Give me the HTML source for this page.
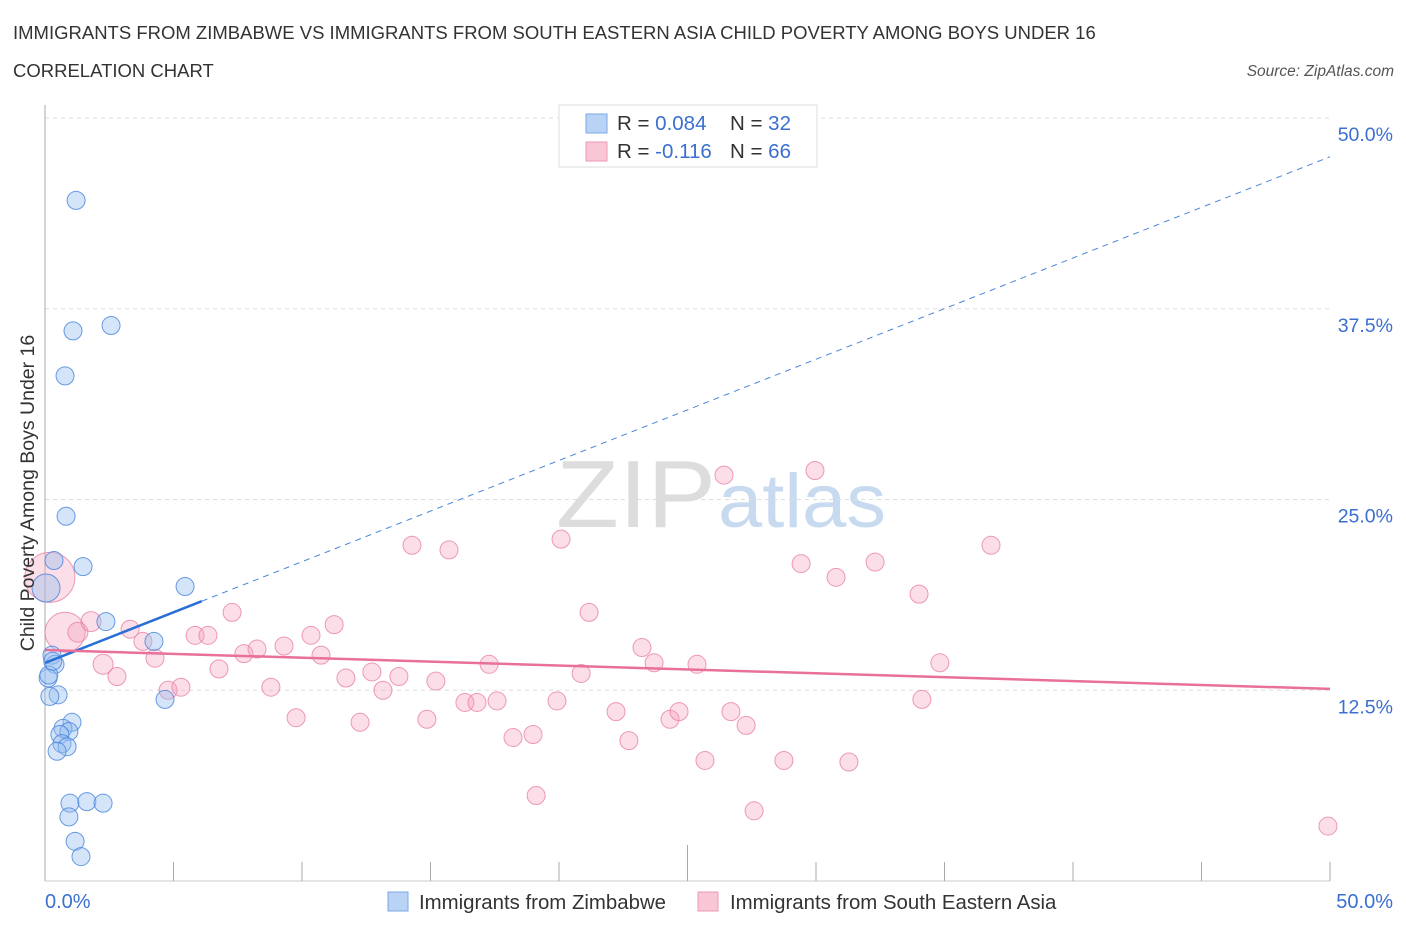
<!DOCTYPE html>
<html><head><meta charset="utf-8"><style>
body{margin:0;background:#fff;font-family:"Liberation Sans",sans-serif;}
svg text{font-family:"Liberation Sans",sans-serif;}
</style></head><body>
<svg id="chart" width="1406" height="930" xmlns="http://www.w3.org/2000/svg">
<text x="13" y="39" font-size="18.5" fill="#333">IMMIGRANTS FROM ZIMBABWE VS IMMIGRANTS FROM SOUTH EASTERN ASIA CHILD POVERTY AMONG BOYS UNDER 16</text>
<text x="13" y="77" font-size="18.5" fill="#333">CORRELATION CHART</text>
<text x="1394" y="76" font-size="15.5" fill="#555" text-anchor="end" font-style="italic">Source: ZipAtlas.com</text>
<text x="716" y="527" font-size="96" text-anchor="end" fill="#ddd" font-family="Liberation Serif" textLength="160" lengthAdjust="spacingAndGlyphs">ZIP</text>
<text x="718" y="527" font-size="76" fill="#c8daf0" textLength="168" lengthAdjust="spacingAndGlyphs">atlas</text>
<g id="grid"></g>
<g id="axes"></g>
<g id="marks"></g>
<text transform="translate(34,493) rotate(-90)" font-size="19.5" fill="#333" text-anchor="middle">Child Poverty Among Boys Under 16</text>
<g>
<rect x="559" y="105" width="258" height="62" fill="#fff" stroke="#ddd"/>
<rect x="586" y="114" width="21" height="19" fill="#b9d3f5" stroke="#7aa7e6"/>
<rect x="586" y="142" width="21" height="19" fill="#f9c6d5" stroke="#ec9ab5"/>
<text x="617" y="130" font-size="20.5" fill="#333">R = <tspan fill="#3b6fd0">0.084</tspan></text>
<text x="730" y="130" font-size="20.5" fill="#333">N = <tspan fill="#3b6fd0">32</tspan></text>
<text x="617" y="158" font-size="20.5" fill="#333">R = <tspan fill="#3b6fd0">-0.116</tspan></text>
<text x="730" y="158" font-size="20.5" fill="#333">N = <tspan fill="#3b6fd0">66</tspan></text>
</g>
<g>
<rect x="388" y="892" width="20" height="19" fill="#b9d3f5" stroke="#7aa7e6"/>
<text x="419" y="909" font-size="20.4" fill="#333">Immigrants from Zimbabwe</text>
<rect x="698" y="892" width="20" height="19" fill="#f9c6d5" stroke="#ec9ab5"/>
<text x="730" y="909" font-size="20.4" fill="#333">Immigrants from South Eastern Asia</text>
</g>
</svg>
<script>
const xTickVals=[0,5,10,15,20,25,30,35,40,45,50];
const yTickVals=[12.5,25,37.5,50];
const yTickLabels=["12.5%","25.0%","37.5%","50.0%"];
const xEndLabels=["0.0%","50.0%"];
const blueX=[1.21,1.09,2.57,0.78,0.82,0.35,1.48,0.04,5.45,2.37,4.24,0.27,0.39,0.12,0.51,0.19,4.67,1.05,0.70,0.93,0.58,0.66,0.86,0.47,0.97,1.63,2.26,0.93,1.17,1.40,0.15,0.30];
const blueY=[44.6,36.05,36.4,33.1,23.9,21.0,20.6,19.2,19.3,17.0,15.7,14.8,14.2,13.3,12.2,12.1,11.9,10.4,10.0,9.8,9.6,9.0,8.8,8.5,5.1,5.2,5.1,4.2,2.6,1.6,13.5,14.4];
const pinkX=[0.19,0.78,1.28,1.79,2.26,2.80,3.31,3.81,4.28,4.79,5.29,5.84,6.34,6.77,7.28,7.74,8.25,8.79,9.30,9.77,10.35,10.74,11.25,11.71,12.26,12.72,13.15,13.77,14.28,14.86,15.21,15.72,16.34,16.81,17.28,17.59,18.21,18.99,19.11,19.92,20.08,20.86,21.17,22.22,22.72,23.23,23.70,24.32,24.67,25.37,25.68,26.42,26.69,27.28,27.59,28.75,29.42,29.96,30.78,31.28,32.30,34.01,34.12,34.82,36.81,49.92];
const pinkY=[19.9,16.3,16.3,17.0,14.2,13.4,16.5,15.7,14.6,12.5,12.7,16.1,16.1,13.9,17.6,14.9,15.2,12.7,15.4,10.7,16.1,14.8,16.8,13.3,10.4,13.7,12.5,13.4,22.0,10.6,13.1,21.7,11.7,11.7,14.2,11.8,9.4,9.6,5.6,11.8,22.4,13.6,17.6,11.1,9.2,15.3,14.3,10.6,11.1,14.2,7.9,26.6,11.1,10.2,4.6,7.9,20.8,26.9,19.9,7.8,20.9,18.8,11.9,14.3,22.0,3.6];
const pinkR=[25,20,10,10,10,9,9,9,9,9,9,9,9,9,9,9,9,9,9,9,9,9,9,9,9,9,9,9,9,9,9,9,9,9,9,9,9,9,9,9,9,9,9,9,9,9,9,9,9,9,9,9,9,9,9,9,9,9,9,9,9,9,9,9,9,9];
const blueFit=[14.29,47.46];
const pinkFit=[15.14,12.59];
const blueSolidEnd=6.1;

const X0=45,X1=1330,Y0=881,PXPER=(881-118)/50;
const sx=v=>X0+(v/50)*(X1-X0);
const sy=v=>Y0-v*PXPER;
const NS="http://www.w3.org/2000/svg";
function mk(p,t,a){const e=document.createElementNS(NS,t);for(const k in a)e.setAttribute(k,a[k]);p.appendChild(e);return e;}
const grid=document.getElementById('grid'),axes=document.getElementById('axes'),marks=document.getElementById('marks');
yTickVals.forEach((v,i)=>{
 const l=mk(grid,'line',{x1:X0,x2:X1,y1:sy(v),y2:sy(v),stroke:'#ddd','stroke-dasharray':'4,4'});
 
 
 const t=mk(axes,'text',{x:1393,y:sy(v)+23,'font-size':19.5,fill:'#3b6fd0','text-anchor':'end'});
 t.textContent=yTickLabels[i];
 
 
});
const al=mk(axes,'line',{x1:X0,x2:X0,y1:105,y2:Y0,stroke:'#aaa'});


const bl=mk(axes,'line',{x1:X0,x2:X1,y1:Y0,y2:Y0,stroke:'#ccc'});


xTickVals.forEach(v=>{
 const t=mk(axes,'line',{x1:sx(v),x2:sx(v),y1:v===25?845:862,y2:Y0,stroke:'#aaa'});
 
 
});
[[0,'start',45],[50,'end',1393]].forEach((d,i)=>{
 const t=mk(axes,'text',{x:d[2],y:908,'font-size':20,fill:'#3b6fd0','text-anchor':d[1]});
 t.textContent=xEndLabels[i];
 
 
});
pinkX.forEach((x,i)=>{
 const c=mk(marks,'circle',{cx:sx(x),cy:sy(pinkY[i]),r:pinkR[i],fill:'rgba(244,160,186,0.35)',stroke:'rgba(232,130,165,0.8)','stroke-width':1});
 
 
});
blueX.forEach((x,i)=>{
 const c=mk(marks,'circle',{cx:sx(x),cy:sy(blueY[i]),r:i===7?14:9,fill:'rgba(150,190,240,0.4)',stroke:'rgba(70,130,220,0.8)','stroke-width':1});
 
 
});
const by=x=>blueFit[0]+(blueFit[1]-blueFit[0])*x/50;
const bd=mk(marks,'line',{x1:sx(blueSolidEnd),y1:sy(by(blueSolidEnd)),x2:sx(50),y2:sy(by(50)),stroke:'#4a86d8','stroke-width':1,'stroke-dasharray':'6,5'});


const bs=mk(marks,'line',{x1:sx(0),y1:sy(by(0)),x2:sx(blueSolidEnd),y2:sy(by(blueSolidEnd)),stroke:'#2a6fd6','stroke-width':2.5});


const pl=mk(marks,'line',{x1:sx(0),y1:sy(pinkFit[0]),x2:sx(50),y2:sy(pinkFit[1]),stroke:'#e8709a','stroke-width':2.5});


</script>
</body></html>
